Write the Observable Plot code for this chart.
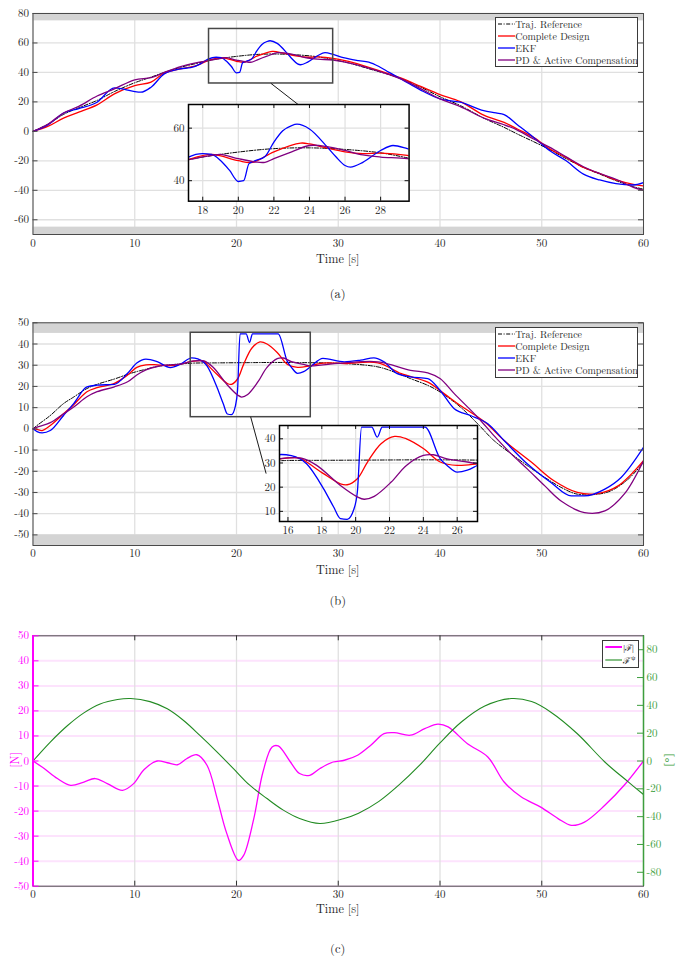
<!DOCTYPE html>
<html><head><meta charset="utf-8">
<script src="https://cdn.jsdelivr.net/npm/d3@7"></script>
<script src="https://cdn.jsdelivr.net/npm/@observablehq/plot@0.6"></script>
<style>
html,body{margin:0;padding:0;background:#fff;}
body{position:relative;width:688px;height:962px;overflow:hidden;font-family:"Latin Modern Roman","Liberation Serif","DejaVu Serif",serif;color:#262626;}
.abs{position:absolute;}
.abs svg{max-width:none !important;display:block;}
.cap{position:absolute;left:0;width:675.5px;text-align:center;font-size:12.2px;line-height:12px;}
.leg{position:absolute;background:#fff;border:1px solid #3a3a3a;box-sizing:border-box;}
.leg .row{position:absolute;left:0;white-space:nowrap;font-size:10px;line-height:12px;height:12px;}
.leg .row svg{position:absolute;top:0;}
.leg .row span{position:absolute;top:0;}
.leg.small .row{font-size:9px;line-height:10px;height:10px;}
.leg.small .row span{font-family:"Liberation Serif",serif;top:1px;}
.leg sup{font-size:6.5px;line-height:0;vertical-align:4px;margin-left:1px;}
.vlab{position:absolute;font-size:12px;line-height:12px;transform:translate(-50%,-50%) rotate(-90deg);white-space:nowrap;}
</style></head><body>
<script>
// ---------------- data ----------------
const X_DOMAIN = [0, 60];
const X_TICKS = [0, 10, 20, 30, 40, 50, 60];
const LEGEND_LABELS = ["Traj. Reference", "Complete Design", "EKF", "PD & Active Compensation"];
const SERIES_COLORS = ["#000000", "#ff0000", "#0000ff", "#800080"];

// Panel (a)
const A_Y_DOMAIN = [-70, 80];
const A_Y_TICKS = [-60, -40, -20, 0, 20, 40, 60, 80];
const A_BANDS = [[75, 80], [-70, -65]];
const A_ZOOM = {t: [17.3, 29.5], v: [32.5, 69.5]};
const A_LINK = [[23.4, 32.5], [26.1, 18]];
const A_INSET_X = [17.2, 29.6];
const A_INSET_Y = [32.2, 69];
const A_INSET_XTICKS = [18, 20, 22, 24, 26, 28];
const A_INSET_YTICKS = [40, 60];

const refA = [[0,0],[1.5,5],[3,11.5],[4.5,16],[6.3,21],[8,27],[10,33],[11.6,36.8],[12.9,40],[14.5,43.5],[16,46],[17.2,48],[18,49],[20,50.9],[22,52.2],[24,52.5],[26,51.9],[28,50.6],[29.5,48.7],[31,46.5],[33,42.5],[35,38.5],[36.2,35.7],[38.1,30],[40,23.5],[42,17.5],[44.3,9],[46.3,2.7],[47.6,-1.8],[49.2,-7],[50.8,-12.5],[52.4,-18.5],[54.1,-24.5],[55.7,-29],[57.3,-33.5],[59,-37.5],[60,-39.3]];
const completeA = [[0,0],[1.5,3.5],[3,9],[4.5,13],[6.3,18],[8,25.5],[10,31],[11.6,33.4],[12.9,39.5],[14.5,42.5],[16,44.5],[17.2,48],[18.5,50],[20,47.6],[20.8,47],[22,51],[23.5,54.3],[24,54],[25,52.4],[26,51],[27,50.3],[28,50.5],[29.5,49.6],[31,47.5],[33,43.5],[36.2,36.1],[38.1,30.5],[40,25],[42,20.2],[44.3,11],[46.3,6.1],[47.6,1.6],[49.2,-4.1],[50.8,-12],[52.4,-17.7],[54.1,-24.5],[55.7,-28.6],[57.3,-33],[59,-36],[60,-37]];
const ekfA = [[0,0],[1.5,4.5],[3,12.5],[4.5,15.5],[6.3,19.8],[8,29.5],[9,28.5],[10,27],[10.6,26.6],[11.6,30],[12.9,39],[14.5,42.5],[15.5,43.2],[16.5,46],[17.2,49],[18,50.3],[18.5,50],[19,47.7],[19.5,44],[20,39.7],[20.3,40],[20.6,46.5],[21,47.7],[21.5,49.2],[22,54.7],[22.5,59],[23,61],[23.3,61.5],[24,59.7],[25,52.8],[25.5,49],[26,45.8],[26.3,45.2],[27,47],[28,51.5],[28.7,53.4],[29.5,52.2],[30.5,50],[32,48],[33,47],[34,44],[35,40],[36.2,35.5],[38.1,28],[40,22],[42,19.8],[44.3,14],[45.5,12.5],[46.3,11.4],[47.6,4.5],[49.2,-4.1],[50.8,-13.2],[52.4,-20],[54.1,-29],[55.7,-33],[57.3,-35.5],[59,-36.4],[60,-34.8]];
const pdA = [[0,0],[1.5,5],[3,12.5],[4.5,17],[6.3,24],[8,28.9],[10,35],[11.6,36.4],[12.9,40],[14.5,44],[16,46.5],[17.2,48],[18.5,49.6],[19,50],[20,48.4],[21,47.1],[21.5,47],[22,48.4],[23,51],[24,53.4],[25,53],[26,51.5],[27,49.8],[28,49],[29.5,48.4],[31,46.5],[33,43],[36.2,35.5],[38.1,29],[40,22],[42,16.8],[44.3,9],[46.3,4.5],[47.6,0.9],[49.2,-5.2],[50.8,-10.9],[52.4,-17.3],[54.1,-24],[55.7,-28.6],[57.3,-32.5],[59,-38],[60,-40]];

// Panel (b)
const B_Y_DOMAIN = [-55, 50];
const B_Y_TICKS = [-50, -40, -30, -20, -10, 0, 10, 20, 30, 40, 50];
const B_BANDS = [[45, 50], [-55, -50]];
const B_ZOOM = {t: [15.5, 27.3], v: [5.5, 45.3]};
const B_LINK = [[21.4, 5.5], [22.9, -20.9]];
const B_INSET_X = [15.5, 27.2];
const B_INSET_Y = [5.8, 45.5];
const B_INSET_XTICKS = [16, 18, 20, 22, 24, 26];
const B_INSET_YTICKS = [10, 20, 30, 40];

const refB = [[0,0],[0.4,1.6],[1.7,6.3],[3,11.9],[4,15],[5.3,19],[6.3,21],[8,23.5],[9.3,25.7],[10.2,27],[11.1,28.1],[12.2,29.4],[13.5,30.2],[14.5,30.6],[15.8,31],[18,31.1],[21,31.2],[24,31.3],[27,31.2],[30.6,30.8],[33.9,29.2],[35.5,26.8],[37.1,23.7],[38.8,20.5],[40,17.4],[42,10.3],[43.7,2.4],[45.3,-5.5],[47,-11.8],[48.6,-17.4],[50.3,-22.9],[51.9,-27.6],[53.5,-30.8],[55.5,-30.8],[56.8,-29.2],[58.5,-23.7],[60,-15.8]];
const completeB = [[0,0],[0.4,-0.3],[0.9,-0.8],[1.7,1.6],[3,7.1],[4,11.4],[5.3,17.5],[6.3,19.4],[8,21.4],[9.3,25.4],[10.2,29],[11.1,30.2],[12.2,30.2],[13.5,29.8],[14.5,30.5],[15.5,31.7],[16.7,32],[17.1,30.4],[18.1,25.6],[19.1,21.4],[19.5,21],[20.1,23.5],[20.7,30.4],[21.5,38],[22.3,41],[23,40],[24,36],[25,30.4],[26,29],[27.2,29.7],[28.5,31],[30.6,30.8],[33.9,31.1],[36.2,26],[38.8,22],[40.4,16.6],[42,11],[44.4,3.2],[46.3,-5.5],[49,-15.8],[51.2,-24.5],[53.5,-30],[55.5,-30.5],[57.5,-26.9],[60,-15]];
const ekfB = [[0,0],[0.4,-1.3],[0.9,-1.9],[1.7,-0.8],[3,6.3],[4,11.9],[5.3,19.8],[6.3,20.6],[8,21],[9.3,26.2],[10.2,31],[11.1,32.9],[12.2,31.7],[13.5,28.9],[14.5,30.5],[15.6,33.5],[16.2,33],[17.1,29.7],[18.1,19.4],[18.7,11.8],[19.1,7],[19.5,6.7],[19.9,11],[20.1,18],[20.35,44.8],[20.95,44.8],[21.28,40.7],[21.57,44.8],[24.1,44.8],[25,31.7],[25.4,29],[26,26.2],[26.6,27],[27.2,29],[28.5,33.2],[30.6,31.6],[32.2,32.4],[33.5,33.5],[34.5,31.6],[35.8,26],[37.1,24.5],[38.8,23.7],[40,18.2],[41.4,9.5],[43,6.3],[44.7,2.4],[46.3,-5.5],[48.6,-16.6],[50.9,-25.3],[52.9,-31.6],[54.2,-31.6],[56.2,-28.4],[57.8,-22.9],[60,-8.7]];
const pdB = [[0,0],[0.4,0.8],[1.7,2.9],[3,7.1],[4,10.3],[5.3,15.1],[6.3,17.5],[8,19.8],[9.3,22.2],[10.2,25.4],[11.1,27.8],[12.2,29.4],[13.5,30.2],[14.5,30.5],[15.8,32],[16.8,32],[17.7,29],[19.1,20.7],[20.1,16],[20.5,15],[21.1,16.2],[22.1,22.1],[23,29],[24,33.1],[24.6,33.4],[25.4,31.7],[26.6,30.4],[27.2,29.7],[28.5,30.2],[30.6,31.1],[33.9,31.6],[37.1,27.6],[38.8,26.4],[40,23.7],[41.4,16.6],[43.7,5.5],[45.3,-3.2],[47,-11.8],[48.6,-19],[50.3,-26.9],[51.9,-34],[54.2,-39.5],[56.2,-38.7],[58.1,-30.8],[60,-15]];

// Panel (c)
const C_Y_DOMAIN = [-50, 50];
const C_Y_TICKS = [-50, -40, -30, -20, -10, 0, 10, 20, 30, 40, 50];
const C_ANGLE_DOMAIN = [-90, 90];
const C_ANGLE_TICKS = [-80, -60, -40, -20, 0, 20, 40, 60, 80];
const forceMag = [[0,0],[1.1,-3],[2.4,-7],[3.7,-9.7],[5,-8.4],[6.1,-7],[7.3,-9],[8.8,-11.7],[9.9,-9],[10.9,-3.5],[12.2,0],[13.2,-0.7],[14.2,-1.5],[15.1,0.9],[16.1,2.5],[17.1,-1.7],[18.1,-15],[19,-28.4],[20.2,-39.7],[20.7,-37.7],[21.7,-23],[22.6,-4.4],[23.5,5.6],[24.1,6],[25.3,-0.4],[26.2,-5],[27.2,-5.7],[28.2,-3],[29.5,-0.4],[30.6,0.3],[31.9,2.3],[33.2,6.3],[34.5,10.9],[35.5,11.3],[37.1,10.3],[38.5,12.9],[39.8,14.7],[40.8,13.6],[42.7,6.9],[44.7,1.6],[46.3,-8.4],[48,-14.4],[49.9,-18.4],[51.6,-23],[52.9,-25.7],[54.2,-24.4],[56.2,-17.7],[58.1,-9.7],[60,0]];
const forceAngle = [[0,0],[1.7,13.6],[3.4,25.5],[5,34.6],[6.6,41],[8.3,44.2],[9.6,44.9],[11.5,42.7],[13.2,37.5],[14.8,29.1],[16.4,18.4],[18.1,6.4],[19.7,-5.5],[21.3,-17.4],[23,-27],[24.6,-35.3],[26.2,-41.3],[28.2,-44.9],[30.5,-41.5],[32,-37.5],[34,-29],[36,-17],[38,-3],[40,13],[42.1,28],[44.4,39.5],[47,44.9],[49,42.7],[50.9,35.1],[53.5,19.6],[56.2,-0.7],[58.5,-15],[60,-24.1]];

// ---------------- style ----------------
const W = 688;
const FONT = '"Latin Modern Roman","Liberation Serif","DejaVu Serif",serif';
const TICK_FS = "11px";
const INK = "#262626";
const GRID = "#e0e0e0";
const BAND = "#d4d4d4";
const EDGE = "#4a4a4a";
const MAGENTA = "#ff00ff";
const GREEN = "#228b22";
const GREEN_AX = "#3d9e3d";
const CURVE = "catmull-rom";

function place(node, left, top) {
  const d = document.createElement("div");
  d.className = "abs";
  d.style.left = left + "px";
  d.style.top = top + "px";
  d.appendChild(node);
  document.body.appendChild(d);
  return d;
}
function text(cls, html, css) {
  const d = document.createElement("div");
  d.className = cls;
  d.innerHTML = html;
  Object.assign(d.style, css);
  document.body.appendChild(d);
  return d;
}

function seriesMarks(set, clip) {
  const base = {x: d => d[0], y: d => d[1], curve: CURVE, clip};
  return [
    Plot.line(set[0], {...base, stroke: SERIES_COLORS[0], strokeWidth: 1, strokeDasharray: "4,1.6,1,1.6"}),
    Plot.line(set[1], {...base, stroke: SERIES_COLORS[1], strokeWidth: 1.3}),
    Plot.line(set[2], {...base, curve: "monotone-x", stroke: SERIES_COLORS[2], strokeWidth: 1.3}),
    Plot.line(set[3], {...base, stroke: SERIES_COLORS[3], strokeWidth: 1.3})
  ];
}

function mainPanel(p) {
  const ml = 32.5, mr = 45;
  const fw = W - ml - mr;
  return Plot.plot({
    width: W, height: p.height,
    marginTop: p.mt, marginBottom: p.mb, marginLeft: ml, marginRight: mr,
    style: {background: "transparent", fontFamily: FONT, fontSize: TICK_FS, color: INK, overflow: "visible"},
    x: {domain: X_DOMAIN}, y: {domain: p.yDomain},
    marks: [
      Plot.ruleX(X_TICKS, {x: d => d, stroke: GRID, strokeWidth: 1.3}),
      Plot.ruleY(p.yTicks, {y: d => d, stroke: GRID, strokeWidth: 1.3}),
      Plot.rect(p.bands, {x1: () => X_DOMAIN[0], x2: () => X_DOMAIN[1], y1: d => d[0], y2: d => d[1], fill: BAND}),
      ...seriesMarks(p.series, true),
      Plot.rect([p.zoom], {x1: d => d.t[0], x2: d => d.t[1], y1: d => d.v[0], y2: d => d.v[1], fill: "none", stroke: "#474747", strokeWidth: 1.5}),
      Plot.line(p.link, {x: d => d[0], y: d => d[1], stroke: "#1a1a1a", strokeWidth: 1}),
      Plot.tickY(p.yTicks, {y: d => d, insetLeft: fw - 5, stroke: EDGE}),
      Plot.tickY(p.yTicks, {y: d => d, insetRight: fw - 5, stroke: EDGE}),
      Plot.frame({stroke: EDGE, strokeWidth: 1}),
      Plot.axisX(X_TICKS, {tickSize: 0, tickPadding: p.xPad, label: null, tickFormat: d => String(d), color: INK}),
      Plot.axisY(p.yTicks, {tickSize: 0, tickPadding: 4, label: null, tickFormat: d => String(d), color: INK})
    ]
  });
}

function insetPanel(p) {
  const ml = 24, mr = 4, mt = 4, mb = 18;
  const fw = p.R - p.L, fh = p.B - p.T;
  const svg = Plot.plot({
    width: fw + ml + mr, height: fh + mt + mb,
    marginTop: mt, marginBottom: mb, marginLeft: ml, marginRight: mr,
    style: {background: "transparent", fontFamily: FONT, fontSize: TICK_FS, color: INK, overflow: "visible"},
    x: {domain: p.xDomain}, y: {domain: p.yDomain},
    marks: [
      Plot.frame({fill: "white"}),
      Plot.ruleX(p.xTicks, {x: d => d, stroke: GRID, strokeWidth: 1.2}),
      Plot.ruleY(p.yTicks, {y: d => d, stroke: GRID, strokeWidth: 1.2}),
      ...seriesMarks(p.series, true),
      Plot.tickX(p.xTicks, {x: d => d, insetTop: fh - 4, stroke: "#111"}),
      Plot.tickX(p.xTicks, {x: d => d, insetBottom: fh - 4, stroke: "#111"}),
      Plot.tickY(p.yTicks, {y: d => d, insetLeft: fw - 4, stroke: "#111"}),
      Plot.tickY(p.yTicks, {y: d => d, insetRight: fw - 4, stroke: "#111"}),
      Plot.frame({stroke: "#000", strokeWidth: 1.5}),
      Plot.axisX(p.xTicks, {tickSize: 0, tickPadding: 5, label: null, tickFormat: d => String(d), color: INK}),
      Plot.axisY(p.yTicks, {tickSize: 0, tickPadding: 4, label: null, tickFormat: d => String(d), color: INK})
    ]
  });
  place(svg, p.L - ml, p.T - mt);
}

function addLegend(box, items, extraClass) {
  const d = document.createElement("div");
  d.className = "leg" + (extraClass ? " " + extraClass : "");
  Object.assign(d.style, {left: box.left + "px", top: box.top + "px", width: box.width + "px", height: box.height + "px"});
  const rh = box.rowH || 12;
  items.forEach((it, i) => {
    const r = document.createElement("div");
    r.className = "row";
    r.style.top = (box.first + i * box.step - rh / 2 - 1) + "px";
    r.innerHTML = `<svg width="${box.sx2 + 2}" height="${rh}"><line x1="${box.sx1}" x2="${box.sx2}" y1="${rh / 2}" y2="${rh / 2}" stroke="${it.color}" stroke-width="${it.width || 1.3}" ${it.dash ? `stroke-dasharray="${it.dash}"` : ""}/></svg><span style="left:${box.tx}px">${it.label}</span>`;
    d.appendChild(r);
  });
  document.body.appendChild(d);
}

const legendItems = LEGEND_LABELS.map((label, i) => ({
  label: label.replace("&", "&amp;"), color: SERIES_COLORS[i], width: i === 0 ? 1 : 1.3, dash: i === 0 ? "4,1.6,1,1.6" : null
}));

// ---------- Panel (a) ----------
place(mainPanel({height: 250, mt: 13, mb: 16, yDomain: A_Y_DOMAIN, yTicks: A_Y_TICKS, bands: A_BANDS,
  series: [refA, completeA, ekfA, pdA], zoom: A_ZOOM, link: A_LINK, xPad: 5}), 0, 0);
insetPanel({L: 187.7, R: 408.3, T: 104.3, B: 201, xDomain: A_INSET_X, yDomain: A_INSET_Y,
  xTicks: A_INSET_XTICKS, yTicks: A_INSET_YTICKS, series: [refA, completeA, ekfA, pdA]});
addLegend({left: 494.7, top: 17.3, width: 143.6, height: 50, first: 6.2, step: 12.2, sx1: 2, sx2: 19, tx: 19.5}, legendItems);
text("cap", "Time [s]", {top: "252px"});
text("cap", "(a)", {top: "287px", fontSize: "12.5px"});

// ---------- Panel (b) ----------
place(mainPanel({height: 261, mt: 22.3, mb: 16, yDomain: B_Y_DOMAIN, yTicks: B_Y_TICKS, bands: B_BANDS,
  series: [refB, completeB, ekfB, pdB], zoom: B_ZOOM, link: B_LINK, xPad: 4}), 0, 300);
insetPanel({L: 279.3, R: 477.3, T: 425, B: 521, xDomain: B_INSET_X, yDomain: B_INSET_Y,
  xTicks: B_INSET_XTICKS, yTicks: B_INSET_YTICKS, series: [refB, completeB, ekfB, pdB]});
addLegend({left: 494.7, top: 327.3, width: 143.6, height: 50.7, first: 6.4, step: 12.2, sx1: 2, sx2: 19, tx: 19.5}, legendItems);
text("cap", "Time [s]", {top: "563px"});
text("cap", "(b)", {top: "594px", fontSize: "12.5px"});

// ---------- Panel (c) ----------
{
  const ml = 32.5, mr = 45, mt = 15.3, mb = 16.3, H = 282;
  const fw = W - ml - mr, fh = H - mt - mb;
  const k = C_Y_DOMAIN[1] / C_ANGLE_DOMAIN[1];
  const svg = Plot.plot({
    width: W, height: H, marginTop: mt, marginBottom: mb, marginLeft: ml, marginRight: mr,
    style: {background: "transparent", fontFamily: FONT, fontSize: TICK_FS, color: INK, overflow: "visible"},
    x: {domain: X_DOMAIN}, y: {domain: C_Y_DOMAIN},
    marks: [
      Plot.ruleY(C_Y_TICKS, {y: d => d, stroke: "#fde3fd", strokeWidth: 2}),
      Plot.ruleX(X_TICKS, {x: d => d, stroke: GRID, strokeWidth: 1.3}),
      Plot.line(forceMag, {x: d => d[0], y: d => d[1], curve: CURVE, stroke: MAGENTA, strokeWidth: 1.3}),
      Plot.line(forceAngle, {x: d => d[0], y: d => d[1] * k, curve: CURVE, stroke: GREEN, strokeWidth: 1.1}),
      Plot.frame({stroke: EDGE, strokeWidth: 1}),
      Plot.tickX(X_TICKS, {x: d => d, insetBottom: fh - 5, stroke: "#333"}),
      Plot.tickX(X_TICKS, {x: d => d, insetTop: fh - 5, stroke: "#333"}),
      Plot.tickY(C_Y_TICKS, {y: d => d, insetRight: fw - 6, stroke: MAGENTA}),
      Plot.tickY(C_ANGLE_TICKS.map(d => d * k), {y: d => d, insetLeft: fw - 6, stroke: GREEN_AX}),
      Plot.ruleX([X_DOMAIN[0]], {x: d => d, stroke: MAGENTA, strokeWidth: 2}),
      Plot.ruleX([X_DOMAIN[1]], {x: d => d, stroke: GREEN_AX, strokeWidth: 1.5}),
      Plot.axisX(X_TICKS, {tickSize: 0, tickPadding: 3.5, label: null, tickFormat: d => String(d), color: INK}),
      Plot.axisY(C_Y_TICKS, {anchor: "left", tickSize: 0, tickPadding: 4, label: null, tickFormat: d => String(d), color: MAGENTA}),
      Plot.axisY(C_ANGLE_TICKS.map(d => d * k), {anchor: "right", tickSize: 0, tickPadding: 3, label: null, tickFormat: d => String(Math.round(d / k)), color: GREEN_AX})
    ]
  });
  place(svg, 0, 620);
  addLegend({left: 601.7, top: 640, width: 37, height: 28.3, first: 7.3, step: 12.5, rowH: 10, sx1: 2.3, sx2: 19, tx: 20.5}, [
    {label: "|ℱ|", color: MAGENTA, width: 2},
    {label: "ℱ<sup>ψ</sup>", color: GREEN, width: 1.1}
  ], "small");
  text("vlab", "[N]", {left: "14px", top: "760px", color: MAGENTA});
  text("vlab", "[°]", {left: "669px", top: "760px", color: GREEN_AX, fontFamily: '"Liberation Serif",serif'});
  text("cap", "Time [s]", {top: "902px"});
  text("cap", "(c)", {top: "942px", fontSize: "12.5px"});
}
</script>
</body></html>
